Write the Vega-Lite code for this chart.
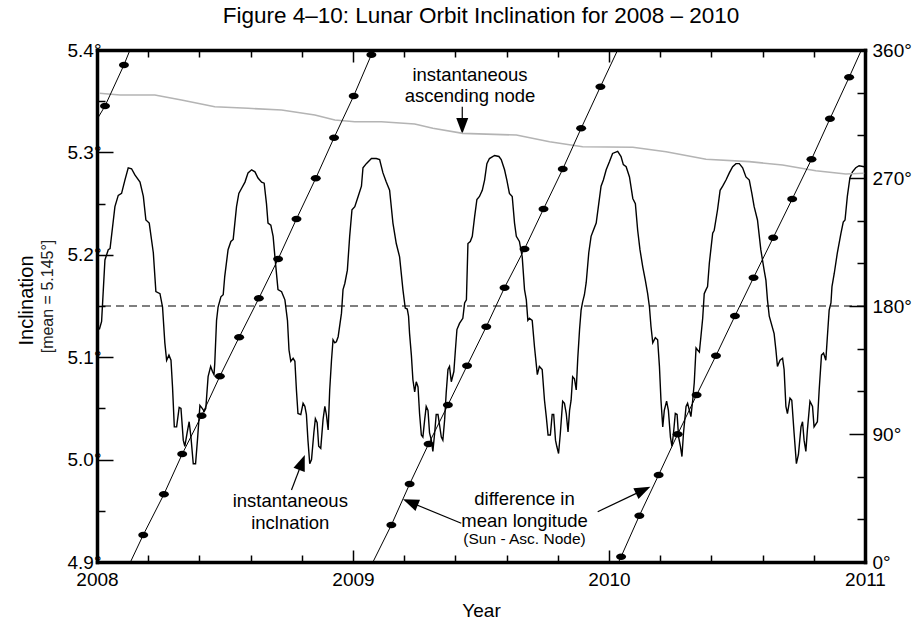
{
  "$schema": "https://vega.github.io/schema/vega-lite/v6.json",
  "width": 768,
  "height": 512,
  "autosize": {"type": "none"},
  "padding": {"left": 97, "top": 50, "right": 47, "bottom": 59},
  "background": "white",
  "title": {
    "text": "Figure 4–10: Lunar Orbit Inclination for 2008 – 2010",
    "font": "Liberation Sans",
    "fontSize": 22.5,
    "fontWeight": "normal",
    "color": "black",
    "anchor": "middle",
    "baseline": "alphabetic",
    "offset": 23,
    "dy": 27
  },
  "config": {
    "view": {"stroke": null},
    "axis": {
      "labelFont": "Liberation Sans",
      "titleFont": "Liberation Sans",
      "labelFontSize": 19,
      "labelColor": "black",
      "titleColor": "black",
      "titleFontWeight": "normal",
      "grid": false,
      "domainColor": "black",
      "domainWidth": 3.5,
      "domainCap": "square",
      "tickColor": "black",
      "tickWidth": 1.5,
      "labelOverlap": false,
      "labelFlush": false
    }
  },
  "datasets": {
    "inc": [
      {"year": 2008.009, "inc": 5.127}, {"year": 2008.018, "inc": 5.135}, {"year": 2008.031, "inc": 5.195}, {"year": 2008.044, "inc": 5.205},
      {"year": 2008.051, "inc": 5.206}, {"year": 2008.070, "inc": 5.247}, {"year": 2008.083, "inc": 5.258}, {"year": 2008.096, "inc": 5.260},
      {"year": 2008.109, "inc": 5.273}, {"year": 2008.122, "inc": 5.285}, {"year": 2008.135, "inc": 5.284}, {"year": 2008.148, "inc": 5.278},
      {"year": 2008.168, "inc": 5.271}, {"year": 2008.181, "inc": 5.257}, {"year": 2008.191, "inc": 5.234}, {"year": 2008.204, "inc": 5.231},
      {"year": 2008.220, "inc": 5.202}, {"year": 2008.230, "inc": 5.164}, {"year": 2008.246, "inc": 5.162}, {"year": 2008.256, "inc": 5.149},
      {"year": 2008.265, "inc": 5.114}, {"year": 2008.272, "inc": 5.097}, {"year": 2008.281, "inc": 5.102}, {"year": 2008.289, "inc": 5.097},
      {"year": 2008.295, "inc": 5.071}, {"year": 2008.302, "inc": 5.032}, {"year": 2008.311, "inc": 5.032}, {"year": 2008.321, "inc": 5.051},
      {"year": 2008.328, "inc": 5.050}, {"year": 2008.337, "inc": 5.019}, {"year": 2008.343, "inc": 5.013}, {"year": 2008.352, "inc": 5.026},
      {"year": 2008.360, "inc": 5.037}, {"year": 2008.367, "inc": 5.022}, {"year": 2008.376, "inc": 4.996}, {"year": 2008.385, "inc": 4.996},
      {"year": 2008.393, "inc": 5.021}, {"year": 2008.402, "inc": 5.053}, {"year": 2008.411, "inc": 5.050}, {"year": 2008.419, "inc": 5.047},
      {"year": 2008.425, "inc": 5.050}, {"year": 2008.434, "inc": 5.081}, {"year": 2008.444, "inc": 5.091}, {"year": 2008.451, "inc": 5.086},
      {"year": 2008.457, "inc": 5.083}, {"year": 2008.460, "inc": 5.094}, {"year": 2008.467, "inc": 5.136}, {"year": 2008.473, "inc": 5.149},
      {"year": 2008.484, "inc": 5.159}, {"year": 2008.493, "inc": 5.161}, {"year": 2008.499, "inc": 5.179}, {"year": 2008.512, "inc": 5.205},
      {"year": 2008.523, "inc": 5.213}, {"year": 2008.532, "inc": 5.215}, {"year": 2008.545, "inc": 5.247}, {"year": 2008.554, "inc": 5.260},
      {"year": 2008.565, "inc": 5.265}, {"year": 2008.578, "inc": 5.271}, {"year": 2008.590, "inc": 5.280}, {"year": 2008.604, "inc": 5.283},
      {"year": 2008.617, "inc": 5.281}, {"year": 2008.629, "inc": 5.275}, {"year": 2008.643, "inc": 5.271}, {"year": 2008.653, "inc": 5.270},
      {"year": 2008.662, "inc": 5.250}, {"year": 2008.668, "inc": 5.231}, {"year": 2008.679, "inc": 5.229}, {"year": 2008.688, "inc": 5.218},
      {"year": 2008.695, "inc": 5.198}, {"year": 2008.707, "inc": 5.166}, {"year": 2008.721, "inc": 5.164}, {"year": 2008.734, "inc": 5.156},
      {"year": 2008.744, "inc": 5.136}, {"year": 2008.750, "inc": 5.107}, {"year": 2008.757, "inc": 5.096}, {"year": 2008.766, "inc": 5.099},
      {"year": 2008.773, "inc": 5.096}, {"year": 2008.779, "inc": 5.068}, {"year": 2008.785, "inc": 5.045}, {"year": 2008.796, "inc": 5.044},
      {"year": 2008.805, "inc": 5.055}, {"year": 2008.812, "inc": 5.052}, {"year": 2008.818, "inc": 5.044}, {"year": 2008.824, "inc": 5.019},
      {"year": 2008.831, "inc": 4.996}, {"year": 2008.838, "inc": 5.000}, {"year": 2008.847, "inc": 5.026}, {"year": 2008.853, "inc": 5.040},
      {"year": 2008.860, "inc": 5.036}, {"year": 2008.866, "inc": 5.013}, {"year": 2008.874, "inc": 5.011}, {"year": 2008.883, "inc": 5.039},
      {"year": 2008.890, "inc": 5.052}, {"year": 2008.896, "inc": 5.044}, {"year": 2008.903, "inc": 5.029}, {"year": 2008.909, "inc": 5.068},
      {"year": 2008.916, "inc": 5.097}, {"year": 2008.922, "inc": 5.117}, {"year": 2008.929, "inc": 5.114}, {"year": 2008.935, "inc": 5.115},
      {"year": 2008.942, "inc": 5.120}, {"year": 2008.955, "inc": 5.143}, {"year": 2008.961, "inc": 5.166}, {"year": 2008.968, "inc": 5.172},
      {"year": 2008.978, "inc": 5.185}, {"year": 2008.987, "inc": 5.218}, {"year": 2008.996, "inc": 5.244}, {"year": 2009.007, "inc": 5.247},
      {"year": 2009.020, "inc": 5.257}, {"year": 2009.033, "inc": 5.267}, {"year": 2009.039, "inc": 5.285}, {"year": 2009.052, "inc": 5.289},
      {"year": 2009.072, "inc": 5.294}, {"year": 2009.091, "inc": 5.294}, {"year": 2009.104, "inc": 5.293}, {"year": 2009.117, "inc": 5.280},
      {"year": 2009.130, "inc": 5.271}, {"year": 2009.143, "inc": 5.263}, {"year": 2009.156, "inc": 5.231}, {"year": 2009.169, "inc": 5.211},
      {"year": 2009.182, "inc": 5.198}, {"year": 2009.195, "inc": 5.166}, {"year": 2009.204, "inc": 5.148}, {"year": 2009.212, "inc": 5.147},
      {"year": 2009.217, "inc": 5.140}, {"year": 2009.221, "inc": 5.123}, {"year": 2009.228, "inc": 5.102}, {"year": 2009.234, "inc": 5.078},
      {"year": 2009.241, "inc": 5.066}, {"year": 2009.247, "inc": 5.076}, {"year": 2009.254, "inc": 5.071}, {"year": 2009.260, "inc": 5.045},
      {"year": 2009.267, "inc": 5.024}, {"year": 2009.273, "inc": 5.022}, {"year": 2009.280, "inc": 5.039}, {"year": 2009.286, "inc": 5.052},
      {"year": 2009.293, "inc": 5.048}, {"year": 2009.299, "inc": 5.026}, {"year": 2009.306, "inc": 5.019}, {"year": 2009.312, "inc": 5.008},
      {"year": 2009.319, "inc": 5.026}, {"year": 2009.325, "inc": 5.044}, {"year": 2009.332, "inc": 5.044}, {"year": 2009.338, "inc": 5.034},
      {"year": 2009.345, "inc": 5.022}, {"year": 2009.351, "inc": 5.019}, {"year": 2009.358, "inc": 5.039}, {"year": 2009.364, "inc": 5.065},
      {"year": 2009.371, "inc": 5.088}, {"year": 2009.377, "inc": 5.091}, {"year": 2009.384, "inc": 5.076}, {"year": 2009.394, "inc": 5.086},
      {"year": 2009.400, "inc": 5.107}, {"year": 2009.406, "inc": 5.127}, {"year": 2009.416, "inc": 5.133}, {"year": 2009.429, "inc": 5.138},
      {"year": 2009.436, "inc": 5.153}, {"year": 2009.443, "inc": 5.156}, {"year": 2009.449, "inc": 5.211}, {"year": 2009.458, "inc": 5.213},
      {"year": 2009.466, "inc": 5.218}, {"year": 2009.475, "inc": 5.237}, {"year": 2009.484, "inc": 5.254}, {"year": 2009.494, "inc": 5.257},
      {"year": 2009.505, "inc": 5.263}, {"year": 2009.514, "inc": 5.273}, {"year": 2009.523, "inc": 5.289}, {"year": 2009.533, "inc": 5.294},
      {"year": 2009.553, "inc": 5.297}, {"year": 2009.570, "inc": 5.296}, {"year": 2009.579, "inc": 5.293}, {"year": 2009.592, "inc": 5.283},
      {"year": 2009.601, "inc": 5.273}, {"year": 2009.611, "inc": 5.260}, {"year": 2009.622, "inc": 5.257}, {"year": 2009.631, "inc": 5.231},
      {"year": 2009.638, "inc": 5.218}, {"year": 2009.650, "inc": 5.213}, {"year": 2009.661, "inc": 5.198}, {"year": 2009.670, "inc": 5.166},
      {"year": 2009.677, "inc": 5.156}, {"year": 2009.683, "inc": 5.136}, {"year": 2009.689, "inc": 5.138}, {"year": 2009.700, "inc": 5.136},
      {"year": 2009.709, "inc": 5.110}, {"year": 2009.720, "inc": 5.083}, {"year": 2009.728, "inc": 5.091}, {"year": 2009.739, "inc": 5.088},
      {"year": 2009.748, "inc": 5.058}, {"year": 2009.755, "inc": 5.042}, {"year": 2009.762, "inc": 5.024}, {"year": 2009.771, "inc": 5.024},
      {"year": 2009.778, "inc": 5.044}, {"year": 2009.784, "inc": 5.044}, {"year": 2009.791, "inc": 5.019}, {"year": 2009.796, "inc": 5.013},
      {"year": 2009.803, "inc": 5.006}, {"year": 2009.810, "inc": 5.026}, {"year": 2009.819, "inc": 5.057}, {"year": 2009.826, "inc": 5.055},
      {"year": 2009.833, "inc": 5.045}, {"year": 2009.840, "inc": 5.027}, {"year": 2009.846, "inc": 5.048}, {"year": 2009.852, "inc": 5.058},
      {"year": 2009.858, "inc": 5.081}, {"year": 2009.865, "inc": 5.079}, {"year": 2009.872, "inc": 5.068}, {"year": 2009.878, "inc": 5.099},
      {"year": 2009.885, "inc": 5.127}, {"year": 2009.891, "inc": 5.146}, {"year": 2009.897, "inc": 5.154}, {"year": 2009.904, "inc": 5.161},
      {"year": 2009.911, "inc": 5.173}, {"year": 2009.921, "inc": 5.202}, {"year": 2009.930, "inc": 5.218}, {"year": 2009.939, "inc": 5.224},
      {"year": 2009.950, "inc": 5.231}, {"year": 2009.960, "inc": 5.250}, {"year": 2009.969, "inc": 5.267}, {"year": 2009.978, "inc": 5.273},
      {"year": 2009.989, "inc": 5.283}, {"year": 2010.002, "inc": 5.291}, {"year": 2010.014, "inc": 5.299}, {"year": 2010.034, "inc": 5.301},
      {"year": 2010.047, "inc": 5.296}, {"year": 2010.056, "inc": 5.288}, {"year": 2010.067, "inc": 5.286}, {"year": 2010.080, "inc": 5.276},
      {"year": 2010.093, "inc": 5.255}, {"year": 2010.103, "inc": 5.250}, {"year": 2010.112, "inc": 5.224}, {"year": 2010.121, "inc": 5.205},
      {"year": 2010.132, "inc": 5.188}, {"year": 2010.142, "inc": 5.175}, {"year": 2010.151, "inc": 5.162}, {"year": 2010.158, "inc": 5.149},
      {"year": 2010.164, "inc": 5.130}, {"year": 2010.171, "inc": 5.114}, {"year": 2010.181, "inc": 5.119}, {"year": 2010.190, "inc": 5.117},
      {"year": 2010.197, "inc": 5.091}, {"year": 2010.203, "inc": 5.058}, {"year": 2010.210, "inc": 5.032}, {"year": 2010.216, "inc": 5.048},
      {"year": 2010.225, "inc": 5.057}, {"year": 2010.232, "inc": 5.048}, {"year": 2010.240, "inc": 5.022}, {"year": 2010.246, "inc": 5.013},
      {"year": 2010.252, "inc": 5.026}, {"year": 2010.259, "inc": 5.045}, {"year": 2010.266, "inc": 5.044}, {"year": 2010.272, "inc": 5.022},
      {"year": 2010.279, "inc": 5.013}, {"year": 2010.285, "inc": 5.003}, {"year": 2010.291, "inc": 5.026}, {"year": 2010.301, "inc": 5.052},
      {"year": 2010.307, "inc": 5.055}, {"year": 2010.314, "inc": 5.048}, {"year": 2010.320, "inc": 5.042}, {"year": 2010.327, "inc": 5.058},
      {"year": 2010.333, "inc": 5.075}, {"year": 2010.340, "inc": 5.109}, {"year": 2010.346, "inc": 5.107}, {"year": 2010.353, "inc": 5.105},
      {"year": 2010.359, "inc": 5.120}, {"year": 2010.366, "inc": 5.138}, {"year": 2010.372, "inc": 5.162}, {"year": 2010.379, "inc": 5.166},
      {"year": 2010.385, "inc": 5.169}, {"year": 2010.392, "inc": 5.192}, {"year": 2010.405, "inc": 5.221}, {"year": 2010.411, "inc": 5.224},
      {"year": 2010.424, "inc": 5.244}, {"year": 2010.434, "inc": 5.263}, {"year": 2010.444, "inc": 5.267}, {"year": 2010.457, "inc": 5.273},
      {"year": 2010.470, "inc": 5.280}, {"year": 2010.483, "inc": 5.286}, {"year": 2010.496, "inc": 5.289}, {"year": 2010.509, "inc": 5.289},
      {"year": 2010.522, "inc": 5.285}, {"year": 2010.535, "inc": 5.276}, {"year": 2010.548, "inc": 5.273}, {"year": 2010.558, "inc": 5.260},
      {"year": 2010.567, "inc": 5.247}, {"year": 2010.580, "inc": 5.234}, {"year": 2010.593, "inc": 5.205}, {"year": 2010.606, "inc": 5.185},
      {"year": 2010.613, "inc": 5.175}, {"year": 2010.619, "inc": 5.156}, {"year": 2010.626, "inc": 5.140}, {"year": 2010.645, "inc": 5.123},
      {"year": 2010.652, "inc": 5.107}, {"year": 2010.658, "inc": 5.091}, {"year": 2010.668, "inc": 5.097}, {"year": 2010.678, "inc": 5.099},
      {"year": 2010.684, "inc": 5.088}, {"year": 2010.691, "inc": 5.052}, {"year": 2010.697, "inc": 5.045}, {"year": 2010.707, "inc": 5.060},
      {"year": 2010.714, "inc": 5.058}, {"year": 2010.723, "inc": 5.026}, {"year": 2010.732, "inc": 4.996}, {"year": 2010.740, "inc": 5.005},
      {"year": 2010.750, "inc": 5.032}, {"year": 2010.756, "inc": 5.037}, {"year": 2010.762, "inc": 5.019}, {"year": 2010.769, "inc": 5.008},
      {"year": 2010.775, "inc": 5.029}, {"year": 2010.785, "inc": 5.057}, {"year": 2010.795, "inc": 5.052}, {"year": 2010.801, "inc": 5.032},
      {"year": 2010.814, "inc": 5.037}, {"year": 2010.821, "inc": 5.068}, {"year": 2010.830, "inc": 5.102}, {"year": 2010.838, "inc": 5.104},
      {"year": 2010.847, "inc": 5.097}, {"year": 2010.853, "inc": 5.120}, {"year": 2010.860, "inc": 5.146}, {"year": 2010.867, "inc": 5.153},
      {"year": 2010.871, "inc": 5.169}, {"year": 2010.880, "inc": 5.182}, {"year": 2010.892, "inc": 5.202}, {"year": 2010.906, "inc": 5.221},
      {"year": 2010.915, "inc": 5.232}, {"year": 2010.922, "inc": 5.234}, {"year": 2010.931, "inc": 5.257}, {"year": 2010.941, "inc": 5.275},
      {"year": 2010.951, "inc": 5.281}, {"year": 2010.964, "inc": 5.285}, {"year": 2010.977, "inc": 5.287}, {"year": 2010.997, "inc": 5.286}
    ],
    "node": [
      {"year": 2008.009, "deg": 329.6}, {"year": 2008.090, "deg": 328.4}, {"year": 2008.226, "deg": 328.4}, {"year": 2008.330, "deg": 324.8},
      {"year": 2008.460, "deg": 320.1}, {"year": 2008.590, "deg": 319.0}, {"year": 2008.721, "deg": 317.8}, {"year": 2008.851, "deg": 314.3},
      {"year": 2008.929, "deg": 310.8}, {"year": 2009.007, "deg": 309.6}, {"year": 2009.111, "deg": 309.6}, {"year": 2009.241, "deg": 308.0},
      {"year": 2009.312, "deg": 305.0}, {"year": 2009.429, "deg": 301.4}, {"year": 2009.638, "deg": 300.2}, {"year": 2009.768, "deg": 295.5},
      {"year": 2009.897, "deg": 292.0}, {"year": 2010.093, "deg": 291.6}, {"year": 2010.223, "deg": 288.5}, {"year": 2010.379, "deg": 283.2},
      {"year": 2010.548, "deg": 281.5}, {"year": 2010.678, "deg": 279.1}, {"year": 2010.808, "deg": 275.1}, {"year": 2010.925, "deg": 272.8},
      {"year": 2010.997, "deg": 273.3}
    ],
    "diff": [
      {"seg": "A", "kind": "end", "year": 2008.000, "deg": 311.2},
      {"seg": "A", "kind": "dot", "year": 2008.0312, "deg": 320.6},
      {"seg": "A", "kind": "dot", "year": 2008.1053, "deg": 349.5},
      {"seg": "A", "kind": "end", "year": 2008.1288, "deg": 360},
      {"seg": "B", "kind": "end", "year": 2008.1307, "deg": 0},
      {"seg": "B", "kind": "dot", "year": 2008.1806, "deg": 19.0},
      {"seg": "B", "kind": "dot", "year": 2008.2614, "deg": 47.6},
      {"seg": "B", "kind": "dot", "year": 2008.3328, "deg": 75.9},
      {"seg": "B", "kind": "dot", "year": 2008.4085, "deg": 102.9},
      {"seg": "B", "kind": "dot", "year": 2008.4799, "deg": 130.6},
      {"seg": "B", "kind": "dot", "year": 2008.5552, "deg": 158.0},
      {"seg": "B", "kind": "dot", "year": 2008.6321, "deg": 185.4},
      {"seg": "B", "kind": "dot", "year": 2008.7074, "deg": 213.0},
      {"seg": "B", "kind": "dot", "year": 2008.7792, "deg": 241.2},
      {"seg": "B", "kind": "dot", "year": 2008.8545, "deg": 269.8},
      {"seg": "B", "kind": "dot", "year": 2008.9259, "deg": 298.3},
      {"seg": "B", "kind": "dot", "year": 2009.0027, "deg": 327.7},
      {"seg": "B", "kind": "dot", "year": 2009.0718, "deg": 356.7},
      {"seg": "B", "kind": "end", "year": 2009.0808, "deg": 360},
      {"seg": "C", "kind": "end", "year": 2009.0780, "deg": 0},
      {"seg": "C", "kind": "dot", "year": 2009.1498, "deg": 26.0},
      {"seg": "C", "kind": "dot", "year": 2009.2212, "deg": 54.8},
      {"seg": "C", "kind": "dot", "year": 2009.2953, "deg": 83.0},
      {"seg": "C", "kind": "dot", "year": 2009.3707, "deg": 110.4},
      {"seg": "C", "kind": "dot", "year": 2009.4456, "deg": 138.0},
      {"seg": "C", "kind": "dot", "year": 2009.5205, "deg": 165.4},
      {"seg": "C", "kind": "dot", "year": 2009.5919, "deg": 192.9},
      {"seg": "C", "kind": "dot", "year": 2009.6699, "deg": 220.1},
      {"seg": "C", "kind": "dot", "year": 2009.7441, "deg": 248.2},
      {"seg": "C", "kind": "dot", "year": 2009.8194, "deg": 276.3},
      {"seg": "C", "kind": "dot", "year": 2009.8911, "deg": 304.9},
      {"seg": "C", "kind": "dot", "year": 2009.9665, "deg": 334.2},
      {"seg": "C", "kind": "end", "year": 2010.0339, "deg": 360},
      {"seg": "D", "kind": "end", "year": 2010.0378, "deg": 0},
      {"seg": "D", "kind": "dot", "year": 2010.0472, "deg": 3.7},
      {"seg": "D", "kind": "dot", "year": 2010.1186, "deg": 32.6},
      {"seg": "D", "kind": "dot", "year": 2010.1939, "deg": 61.2},
      {"seg": "D", "kind": "dot", "year": 2010.2681, "deg": 89.8},
      {"seg": "D", "kind": "dot", "year": 2010.3422, "deg": 117.4},
      {"seg": "D", "kind": "dot", "year": 2010.4179, "deg": 145.1},
      {"seg": "D", "kind": "dot", "year": 2010.4920, "deg": 173.0},
      {"seg": "D", "kind": "dot", "year": 2010.5646, "deg": 199.9},
      {"seg": "D", "kind": "dot", "year": 2010.6414, "deg": 228.0},
      {"seg": "D", "kind": "dot", "year": 2010.7156, "deg": 255.2},
      {"seg": "D", "kind": "dot", "year": 2010.7909, "deg": 283.1},
      {"seg": "D", "kind": "dot", "year": 2010.8630, "deg": 311.6},
      {"seg": "D", "kind": "dot", "year": 2010.9380, "deg": 340.8},
      {"seg": "D", "kind": "end", "year": 2010.9860, "deg": 360}
    ],
    "mean": [{"inc": 5.15}],
    "notes": [
      {"text": "instantaneous", "year": 2009.457, "inc": 5.3695},
      {"text": "ascending node", "year": 2009.457, "inc": 5.3497},
      {"text": "instantaneous", "year": 2008.755, "inc": 4.9537},
      {"text": "inclnation", "year": 2008.755, "inc": 4.9322},
      {"text": "difference in", "year": 2009.670, "inc": 4.9557},
      {"text": "mean longitude", "year": 2009.670, "inc": 4.9342}
    ],
    "subnote": [
      {"text": "(Sun - Asc. Node)", "year": 2009.670, "inc": 4.9176}
    ],
    "arrows": [
      {"id": "node", "year": 2009.4268, "inc": 5.3446, "year2": 2009.4268, "inc2": 5.3258},
      {"id": "incl", "year": 2008.7597, "inc": 4.9703, "year2": 2008.8006, "inc2": 4.9972},
      {"id": "diffR", "year": 2009.9559, "inc": 4.9491, "year2": 2010.1334, "inc2": 4.9702},
      {"id": "diffL", "year": 2009.4229, "inc": 4.9378, "year2": 2009.2240, "inc2": 4.9583}
    ]
  },
  "layer": [
    {
      "layer": [
        {
          "data": {"name": "inc"},
          "mark": {"type": "line", "color": "black", "strokeWidth": 1.4, "interpolate": "linear"},
          "encoding": {
            "x": {
              "field": "year", "type": "quantitative",
              "scale": {"domain": [2008, 2011], "nice": false, "zero": false},
              "axis": {
                "orient": "bottom",
                "title": "Year",
                "titleFontSize": 19,
                "titlePadding": 7,
                "values": [2008, 2008.2, 2008.4, 2008.6, 2008.8, 2009, 2009.2, 2009.4, 2009.6, 2009.8, 2010, 2010.2, 2010.4, 2010.6, 2010.8, 2011],
                "labelExpr": "datum.value % 1 === 0 ? '' + datum.value : ''",
                "tickSize": {"condition": {"test": "datum.value % 1 === 0", "value": -12}, "value": -7},
                "labelPadding": 20
              }
            },
            "y": {
              "field": "inc", "type": "quantitative",
              "scale": {"domain": [4.9, 5.4], "nice": false, "zero": false},
              "axis": {
                "orient": "left",
                "title": "[mean = 5.145°]",
                "titleFontSize": 16,
                "titlePadding": 11,
                "titleY": 246,
                "titleColor": "#222222",
                "values": [4.9, 4.95, 5, 5.05, 5.1, 5.15, 5.2, 5.25, 5.3, 5.35, 5.4],
                "labelExpr": "abs(datum.value * 10 - round(datum.value * 10)) < 0.01 ? format(datum.value, '.1f') + '°' : ''",
                "tickSize": {"condition": {"test": "abs(datum.value * 10 - round(datum.value * 10)) < 0.01", "value": -16}, "value": -8},
                "labelPadding": 12
              }
            }
          }
        },
        {
          "data": {"name": "mean"},
          "mark": {"type": "rule", "color": "black", "strokeWidth": 1.2, "strokeDash": [8, 5]},
          "encoding": {
            "y": {"field": "inc", "type": "quantitative"}
          }
        },
        {
          "data": {"name": "arrows"},
          "mark": {"type": "rule", "color": "black", "strokeWidth": 1.2},
          "encoding": {
            "x": {"field": "year", "type": "quantitative"},
            "y": {"field": "inc", "type": "quantitative"},
            "x2": {"field": "year2"},
            "y2": {"field": "inc2"}
          }
        },
        {
          "data": {"name": "arrows"},
          "transform": [{"filter": "datum.id === 'node'"}],
          "mark": {"type": "point", "shape": "M0,-1L0.75,1L-0.75,1Z", "filled": true, "color": "black", "opacity": 1, "size": 256, "angle": 180, "strokeWidth": 0},
          "encoding": {
            "x": {"field": "year2", "type": "quantitative"},
            "y": {"field": "inc2", "type": "quantitative"}
          }
        },
        {
          "data": {"name": "arrows"},
          "transform": [{"filter": "datum.id === 'incl'"}],
          "mark": {"type": "point", "shape": "M0,-1L0.75,1L-0.75,1Z", "filled": true, "color": "black", "opacity": 1, "size": 256, "angle": 20.8, "strokeWidth": 0},
          "encoding": {
            "x": {"field": "year2", "type": "quantitative"},
            "y": {"field": "inc2", "type": "quantitative"}
          }
        },
        {
          "data": {"name": "arrows"},
          "transform": [{"filter": "datum.id === 'diffR'"}],
          "mark": {"type": "point", "shape": "M0,-1L0.75,1L-0.75,1Z", "filled": true, "color": "black", "opacity": 1, "size": 256, "angle": 64.6, "strokeWidth": 0},
          "encoding": {
            "x": {"field": "year2", "type": "quantitative"},
            "y": {"field": "inc2", "type": "quantitative"}
          }
        },
        {
          "data": {"name": "arrows"},
          "transform": [{"filter": "datum.id === 'diffL'"}],
          "mark": {"type": "point", "shape": "M0,-1L0.75,1L-0.75,1Z", "filled": true, "color": "black", "opacity": 1, "size": 256, "angle": 292.3, "strokeWidth": 0},
          "encoding": {
            "x": {"field": "year2", "type": "quantitative"},
            "y": {"field": "inc2", "type": "quantitative"}
          }
        },
        {
          "data": {"name": "notes"},
          "mark": {"type": "text", "font": "Liberation Sans", "fontSize": 18.5, "color": "black", "align": "center", "baseline": "alphabetic"},
          "encoding": {
            "x": {"field": "year", "type": "quantitative"},
            "y": {"field": "inc", "type": "quantitative"},
            "text": {"field": "text"}
          }
        },
        {
          "data": {"name": "subnote"},
          "mark": {"type": "text", "font": "Liberation Sans", "fontSize": 15.5, "color": "black", "align": "center", "baseline": "alphabetic"},
          "encoding": {
            "x": {"field": "year", "type": "quantitative"},
            "y": {"field": "inc", "type": "quantitative"},
            "text": {"field": "text"}
          }
        }
      ]
    },
    {
      "layer": [
        {
          "data": {"name": "node"},
          "mark": {"type": "line", "color": "#b4b4b4", "strokeWidth": 1.6},
          "encoding": {
            "x": {
              "field": "year", "type": "quantitative",
              "scale": {"domain": [2008, 2011], "nice": false, "zero": false},
              "axis": {
                "orient": "top",
                "title": null,
                "labels": false,
                "values": [2008, 2008.2, 2008.4, 2008.6, 2008.8, 2009, 2009.2, 2009.4, 2009.6, 2009.8, 2010, 2010.2, 2010.4, 2010.6, 2010.8, 2011],
                "tickSize": {"condition": {"test": "datum.value % 1 === 0", "value": -12}, "value": -7}
              }
            },
            "y": {
              "field": "deg", "type": "quantitative",
              "scale": {"domain": [0, 360], "nice": false, "zero": false},
              "axis": {
                "orient": "right",
                "title": null,
                "values": [0, 30, 60, 90, 120, 150, 180, 210, 240, 270, 300, 330, 360],
                "labelExpr": "datum.value % 90 === 0 ? datum.value + '°' : ''",
                "tickSize": {"condition": {"test": "datum.value % 90 === 0", "value": -16}, "value": -8},
                "labelPadding": 23
              }
            }
          }
        },
        {
          "data": {"name": "diff"},
          "mark": {"type": "line", "color": "black", "strokeWidth": 1},
          "encoding": {
            "x": {"field": "year", "type": "quantitative"},
            "y": {"field": "deg", "type": "quantitative"},
            "detail": {"field": "seg"}
          }
        },
        {
          "data": {"name": "diff"},
          "transform": [{"filter": "datum.kind === 'dot'"}],
          "mark": {"type": "point", "shape": "M-1,0A1,0.65,0,1,1,1,0A1,0.65,0,1,1,-1,0Z", "filled": true, "color": "black", "opacity": 1, "size": 100, "strokeWidth": 0},
          "encoding": {
            "x": {"field": "year", "type": "quantitative"},
            "y": {"field": "deg", "type": "quantitative"}
          }
        }
      ]
    },
    {
      "data": {"name": "inc"},
      "mark": {"type": "line", "opacity": 0},
      "encoding": {
        "x": {"field": "year", "type": "quantitative", "axis": null},
        "y": {
          "field": "inc", "type": "quantitative",
          "scale": {"domain": [4.9, 5.4], "nice": false, "zero": false},
          "axis": {
            "orient": "left",
            "title": "Inclination",
            "titleFontSize": 20,
            "titleY": 250,
            "labels": false,
            "ticks": false,
            "domain": false,
            "titlePadding": 61
          }
        }
      }
    }
  ],
  "resolve": {"scale": {"y": "independent"}, "axis": {"y": "independent", "x": "independent"}}
}
